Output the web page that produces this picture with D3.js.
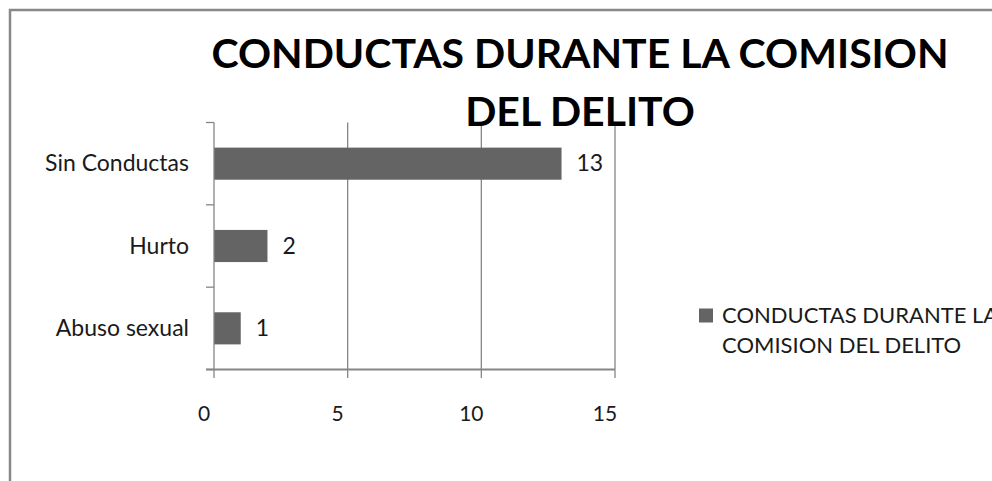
<!DOCTYPE html>
<html>
<head>
<meta charset="utf-8">
<script src="https://cdn.jsdelivr.net/npm/d3@7"></script>
<style>
  body { margin: 0; background: #fff; }
  svg { display: block; font-family: Lato, "Open Sans", sans-serif; }
</style>
</head>
<body>
<div id="chart"></div>
<script>
var categories = ["Sin Conductas", "Hurto", "Abuso sexual"];
var values = [13, 2, 1];
var xTicks = [0, 5, 10, 15];
var titleLines = ["CONDUCTAS DURANTE LA COMISION", "DEL DELITO"];
var legendLines = ["CONDUCTAS DURANTE LA", "COMISION DEL DELITO"];

var width = 992;
var height = 481;

var svg = d3.select("#chart").append("svg")
    .attr("width", width)
    .attr("height", height);

// chart frame (only left and top edges are visible)
svg.append("path")
    .attr("d", "M10,481 L10,10 L992,10")
    .attr("fill", "none")
    .attr("stroke", "#888")
    .attr("stroke-width", 2.5);

var x = d3.scaleLinear().domain([0, 15]).range([214, 615]);
var y = d3.scaleBand().domain(categories).range([122.5, 369.5])
    .paddingInner(0.61).paddingOuter(0.305);

var grid = "#868686";

// vertical gridlines
svg.selectAll("line.grid")
    .data(xTicks.slice(1))
    .enter().append("line")
    .attr("class", "grid")
    .attr("x1", function(d) { return x(d); })
    .attr("x2", function(d) { return x(d); })
    .attr("y1", 122.5)
    .attr("y2", 369.5)
    .attr("stroke", grid)
    .attr("stroke-width", 1.3);

// bars
svg.selectAll("rect.bar")
    .data(values)
    .enter().append("rect")
    .attr("class", "bar")
    .attr("x", x(0))
    .attr("y", function(d, i) { return y(categories[i]); })
    .attr("width", function(d) { return x(d) - x(0); })
    .attr("height", y.bandwidth())
    .attr("fill", "#646464");

// y axis with ticks at band boundaries
var step = y.step();
var yBounds = d3.range(categories.length + 1).map(function(i) { return 122.5 + i * step; });
svg.append("line")
    .attr("x1", x(0)).attr("x2", x(0))
    .attr("y1", 122.5).attr("y2", 369.5)
    .attr("stroke", grid).attr("stroke-width", 1.3);
svg.selectAll("line.ytick")
    .data(yBounds)
    .enter().append("line")
    .attr("class", "ytick")
    .attr("x1", x(0) - 8).attr("x2", x(0))
    .attr("y1", function(d) { return d; })
    .attr("y2", function(d) { return d; })
    .attr("stroke", grid).attr("stroke-width", 1.3);

// x axis
svg.append("line")
    .attr("x1", x(0) - 8).attr("x2", x(15))
    .attr("y1", 369.5).attr("y2", 369.5)
    .attr("stroke", grid).attr("stroke-width", 2);
svg.selectAll("line.xtick")
    .data(xTicks)
    .enter().append("line")
    .attr("class", "xtick")
    .attr("x1", function(d) { return x(d); })
    .attr("x2", function(d) { return x(d); })
    .attr("y1", 369.5).attr("y2", 378)
    .attr("stroke", grid).attr("stroke-width", 1.3);
svg.selectAll("text.xlab")
    .data(xTicks)
    .enter().append("text")
    .attr("class", "xlab")
    .attr("x", function(d) { return x(d) - 10; })
    .attr("y", 421)
    .attr("text-anchor", "middle")
    .attr("font-size", 21)
    .attr("fill", "#1a1a1a")
    .text(function(d) { return d; });

// category labels
svg.selectAll("text.cat")
    .data(categories)
    .enter().append("text")
    .attr("class", "cat")
    .attr("x", 189)
    .attr("y", function(d) { return y(d) + y.bandwidth() / 2 + 7.5; })
    .attr("text-anchor", "end")
    .attr("font-size", 23)
    .attr("fill", "#1a1a1a")
    .text(function(d) { return d; });

// value labels
svg.selectAll("text.val")
    .data(values)
    .enter().append("text")
    .attr("class", "val")
    .attr("x", function(d) { return x(d) + 15; })
    .attr("y", function(d, i) { return y(categories[i]) + y.bandwidth() / 2 + 7.5; })
    .attr("font-size", 23)
    .attr("fill", "#1a1a1a")
    .text(function(d) { return d; });

// title
svg.selectAll("text.title")
    .data(titleLines)
    .enter().append("text")
    .attr("class", "title")
    .attr("x", 580)
    .attr("y", function(d, i) { return 68 + i * 58; })
    .attr("text-anchor", "middle")
    .attr("font-size", 41)
    .attr("font-weight", "bold")
    .attr("fill", "#000")
    .text(function(d) { return d; });

// legend
svg.append("rect")
    .attr("x", 699).attr("y", 308.5)
    .attr("width", 14).attr("height", 14)
    .attr("fill", "#646464");
svg.selectAll("text.leg")
    .data(legendLines)
    .enter().append("text")
    .attr("class", "leg")
    .attr("x", 722)
    .attr("y", function(d, i) { return 322.5 + i * 30.5; })
    .attr("font-size", 22)
    .attr("fill", "#1a1a1a")
    .text(function(d) { return d; });
</script>
</body>
</html>
